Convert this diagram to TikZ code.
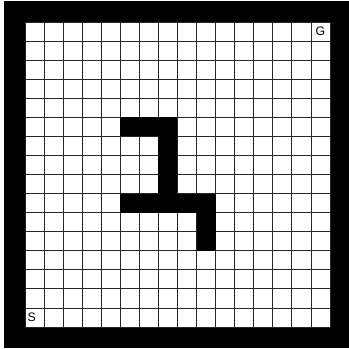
\documentclass[tikz,border=0pt]{standalone}
\usepackage{fontspec}
\setmainfont{Liberation Sans}
\usetikzlibrary{positioning}
\tikzset{
  wall/.style={fill=black},
  gridline/.style={draw=black!85,line width=0.7pt},
  celllabel/.style={font=\fontsize{10.5}{12}\selectfont,inner sep=0pt},
}
\def\cs{19.0625}
\begin{document}
\begin{tikzpicture}[x=0.3mm,y=-0.3mm]
\useasboundingbox (0,0) rectangle (349,349);
% outer frame
\fill[wall] (4,1) rectangle (349,348);
\fill[white] (25,22) rectangle (330,327);
% grid
\foreach \i in {0,...,16}{
  \draw[gridline] ({25+\i*\cs},22) -- ({25+\i*\cs},327);
  \draw[gridline] (25,{22+\i*\cs}) -- (330,{22+\i*\cs});
}
% obstacle cells (col,row)
\foreach \c/\r in {5/5,6/5,7/5,7/6,7/7,7/8,5/9,6/9,7/9,8/9,9/9,9/10,9/11}{
  \fill[wall] ({25+\c*\cs},{22+\r*\cs}) rectangle ({25+(\c+1)*\cs},{22+(\r+1)*\cs});
}
% start and goal
\node[celllabel] (goal) at ({25+15.5*\cs},{22+0.5*\cs}) {G};
\node[celllabel] (start) at ({25+0.35*\cs},{22+15.5*\cs}) {S};
\end{tikzpicture}
\end{document}
